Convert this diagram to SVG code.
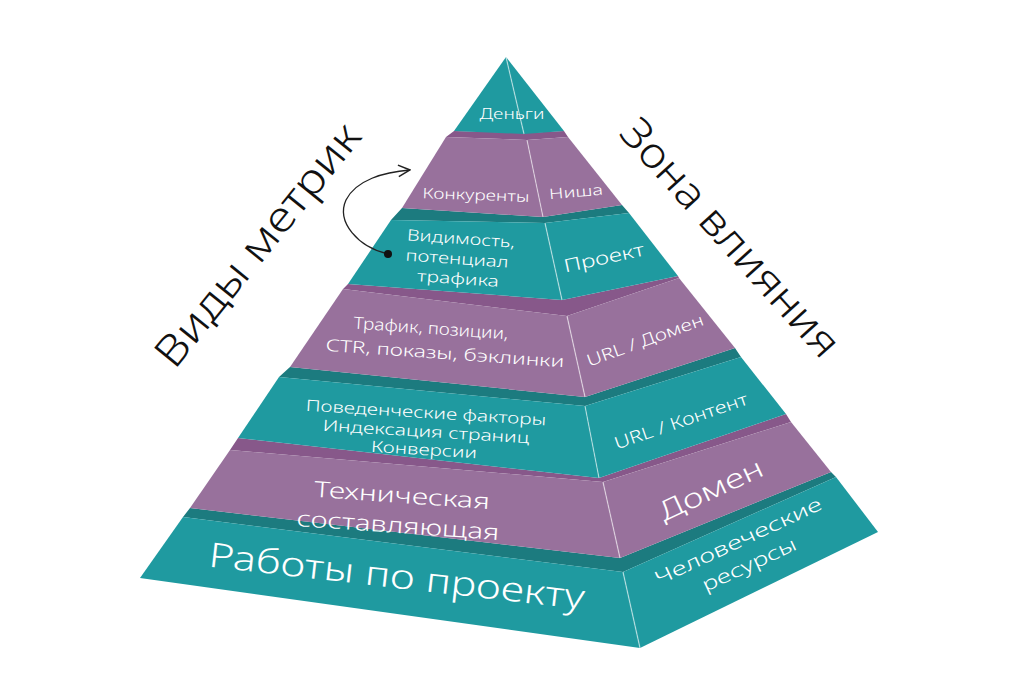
<svg xmlns="http://www.w3.org/2000/svg" width="1024" height="699" viewBox="0 0 1024 699">
<defs>
<style>
.tf{fill:#1f9aa0}
.tt{fill:#1c7b7f}
.pf{fill:#98719c}
.pt{fill:#87588a}
.dv{stroke:#ffffff;stroke-opacity:0.55;stroke-width:1.2;fill:none}
.w{fill:#ffffff;font-family:"Noto Sans","Open Sans","DejaVu Sans",sans-serif;text-anchor:middle;font-weight:300}
.h{fill:#111111;font-family:"Noto Sans","Open Sans","DejaVu Sans",sans-serif;text-anchor:middle;font-size:42px;font-weight:300}
.ln{stroke:#222222;stroke-width:1.3;fill:none}
</style>
<marker id="ah" viewBox="0 0 12 12" refX="11" refY="6" markerWidth="14" markerHeight="14" markerUnits="userSpaceOnUse" orient="auto">
<path d="M1,1 L11,6 L1,11" fill="none" stroke="#222222" stroke-width="1.3"/>
</marker>
</defs>
<rect width="1024" height="699" fill="#ffffff"/>

<g id="tier7">
<polygon class="tt" points="183,517 623,572 836,477 831,472 620,558 190,508"/>
<polygon class="tf" points="183,517 623,572 640,648 140,578"/>
<polygon class="tf" points="623,572 836,477 878,532 640,648"/>
<line class="dv" x1="623" y1="572" x2="640" y2="648"/>
<text class="w" font-size="34" transform="translate(397,576) rotate(6.5)" y="12" textLength="378" lengthAdjust="spacingAndGlyphs">Работы по проекту</text>
<text class="w" font-size="19" transform="translate(741,547) rotate(-25)" textLength="182" lengthAdjust="spacingAndGlyphs">Человеческие</text>
<text class="w" font-size="19" transform="translate(741,547) rotate(-25)" y="26" textLength="102" lengthAdjust="spacingAndGlyphs">ресурсы</text>
</g>

<g id="tier6">
<polygon class="pt" points="230,450 603,482 791,422 786,414 599,478 238,438"/>
<polygon class="pf" points="230,450 603,482 620,558 190,508"/>
<polygon class="pf" points="603,482 791,422 831,472 620,558"/>
<line class="dv" x1="603" y1="482" x2="620" y2="558"/>
<text class="w" font-size="22" transform="translate(402,495) rotate(4)" y="8" textLength="176" lengthAdjust="spacingAndGlyphs">Техническая</text>
<text class="w" font-size="22" transform="translate(398,525) rotate(4)" y="8" textLength="203" lengthAdjust="spacingAndGlyphs">составляющая</text>
<text class="w" font-size="27" transform="translate(711,490) rotate(-25)" y="9" textLength="112" lengthAdjust="spacingAndGlyphs">Домен</text>
</g>

<g id="tier5">
<polygon class="tt" points="279,377 585,406 741,357 735,348 585,397 290,367"/>
<polygon class="tf" points="279,377 585,406 599,478 238,438"/>
<polygon class="tf" points="585,406 741,357 786,414 599,478"/>
<line class="dv" x1="585" y1="406" x2="599" y2="478"/>
<text class="w" font-size="15.5" transform="translate(426,413) rotate(3.5)" y="5" textLength="241" lengthAdjust="spacingAndGlyphs">Поведенческие факторы</text>
<text class="w" font-size="15.5" transform="translate(426,432) rotate(3.5)" y="5" textLength="207" lengthAdjust="spacingAndGlyphs">Индексация страниц</text>
<text class="w" font-size="15.5" transform="translate(424,450) rotate(3.5)" y="5" textLength="106" lengthAdjust="spacingAndGlyphs">Конверсии</text>
<text class="w" font-size="17" transform="translate(681,421) rotate(-19)" y="6" textLength="140" lengthAdjust="spacingAndGlyphs">URL / Контент</text>
</g>

<g id="tier4">
<polygon class="pt" points="343,289 567,316 679,278 678,276 562,300 348,284"/>
<polygon class="pf" points="343,289 567,316 585,397 290,367"/>
<polygon class="pf" points="567,316 679,278 735,348 585,397"/>
<line class="dv" x1="567" y1="316" x2="585" y2="397"/>
<text class="w" font-size="16.5" transform="translate(431,328) rotate(4)" y="6" textLength="155" lengthAdjust="spacingAndGlyphs">Трафик, позиции,</text>
<text class="w" font-size="16.5" transform="translate(445,353) rotate(4)" y="6" textLength="239" lengthAdjust="spacingAndGlyphs">CTR, показы, бэклинки</text>
<text class="w" font-size="16.5" transform="translate(645,340) rotate(-20)" y="6" textLength="123" lengthAdjust="spacingAndGlyphs">URL / Домен</text>
</g>

<g id="tier3">
<polygon class="tt" points="391,220 545,223 629,213 622,205 543,217 402,208"/>
<polygon class="tf" points="391,220 545,223 562,300 348,284"/>
<polygon class="tf" points="545,223 629,213 678,276 562,300"/>
<line class="dv" x1="545" y1="223" x2="562" y2="300"/>
<text class="w" font-size="15.5" transform="translate(461,239) rotate(4)" y="5" textLength="108" lengthAdjust="spacingAndGlyphs">Видимость,</text>
<text class="w" font-size="15.5" transform="translate(457,259) rotate(4)" y="5" textLength="103" lengthAdjust="spacingAndGlyphs">потенциал</text>
<text class="w" font-size="15.5" transform="translate(458,279) rotate(4)" y="5" textLength="82" lengthAdjust="spacingAndGlyphs">трафика</text>
<text class="w" font-size="18" transform="translate(604,258) rotate(-12)" y="6" textLength="82" lengthAdjust="spacingAndGlyphs">Проект</text>
</g>

<g id="tier2">
<polygon class="pt" points="446,137 527,140 568,137 564,131 524,133 454,131"/>
<polygon class="pf" points="446,137 527,140 543,217 402,208"/>
<polygon class="pf" points="527,140 568,137 622,205 543,217"/>
<line class="dv" x1="527" y1="140" x2="543" y2="217"/>
<text class="w" font-size="14.5" transform="translate(476,195) rotate(2)" y="5" textLength="107" lengthAdjust="spacingAndGlyphs">Конкуренты</text>
<text class="w" font-size="14.5" transform="translate(576,192) rotate(-5)" y="5" textLength="54" lengthAdjust="spacingAndGlyphs">Ниша</text>
</g>

<g id="tier1">
<polygon class="tf" points="506,57 454,131 524,134"/>
<polygon class="tf" points="506,57 524,134 564,131"/>
<line class="dv" x1="506" y1="57" x2="524" y2="134"/>
<text class="w" font-size="14" transform="translate(512,114)" y="5" textLength="65" lengthAdjust="spacingAndGlyphs">Деньги</text>
</g>

<g id="label-metrics">
<text class="h" transform="translate(258,245) rotate(-51)" y="14" textLength="300" lengthAdjust="spacingAndGlyphs">Виды метрик</text>
</g>
<g id="label-zone">
<text class="h" transform="translate(730,238) rotate(48)" y="14" textLength="305" lengthAdjust="spacingAndGlyphs">Зона влияния</text>
</g>

<g id="connectors">
<path class="ln" d="M388,254 C358,247 336,222 346,200 C356,180 384,172 410,170" marker-end="url(#ah)"/>
<circle cx="388" cy="254" r="4" fill="#111111"/>
</g>
</svg>
